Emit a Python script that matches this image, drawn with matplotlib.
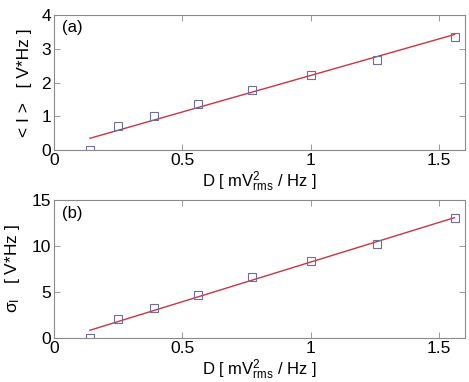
import matplotlib
matplotlib.use("Agg")
import matplotlib.pyplot as plt

plt.rcParams["font.family"] = ["Liberation Sans", "DejaVu Sans"]
plt.rcParams["mathtext.fontset"] = "custom"
plt.rcParams["mathtext.rm"] = "Liberation Sans"
plt.rcParams["mathtext.it"] = "Liberation Sans"

# data
D = [0.14, 0.25, 0.39, 0.56, 0.77, 1.00, 1.26, 1.56]
mean_I = [0.00, 0.70, 1.00, 1.35, 1.78, 2.23, 2.68, 3.35]
sigma_I = [0.00, 2.10, 3.30, 4.70, 6.60, 8.40, 10.20, 13.10]
fit_x = [0.14, 1.56]
fit_mean = [0.35, 3.42]
fit_sigma = [0.85, 13.10]

MARK = "#6e6e98"
LINE = "#cc3344"
GRID = "#8a8a8a"

fig = plt.figure(figsize=(4.69, 3.82), dpi=100)
ax1 = fig.add_axes([0.115, 0.607, 0.876, 0.354])
ax2 = fig.add_axes([0.115, 0.115, 0.876, 0.361])

xlabel = r"D [ mV$^2_{\mathrm{rms}}$ / Hz ]"
panels = [
    (ax1, mean_I, fit_mean, (0, 4), [0, 1, 2, 3, 4], "(a)", r"< I >   [ V*Hz ]"),
    (ax2, sigma_I, fit_sigma, (0, 15), [0, 5, 10, 15], "(b)", r"$\sigma_\mathrm{I}$   [ V*Hz ]"),
]
for ax, y, fy, ylim, yt, tag, ylab in panels:
    ax.plot(fit_x, fy, color=LINE, lw=1.0)
    ax.plot(D, y, ls="", marker="s", ms=5.5, mfc="none", mec=MARK, mew=0.8)
    ax.set_xlim(0, 1.6)
    ax.set_ylim(*ylim)
    ax.set_xticks([0, 0.5, 1, 1.5])
    ax.set_xticklabels(["0", "0.5", "1", "1.5"])
    ax.set_yticks(yt)
    ax.tick_params(direction="in", top=True, right=True, labelsize=12.5,
                   length=4, width=0.6, color=GRID, pad=2)
    for s in ax.spines.values():
        s.set_color(GRID)
        s.set_linewidth(0.8)
    ax.text(0.02, 0.96, tag, transform=ax.transAxes, ha="left", va="top", fontsize=12)
    ax.set_xlabel(xlabel, fontsize=12, labelpad=1)
    ax.set_ylabel(ylab, fontsize=12.5, labelpad=7)

fig.savefig("out.png", dpi=100)
